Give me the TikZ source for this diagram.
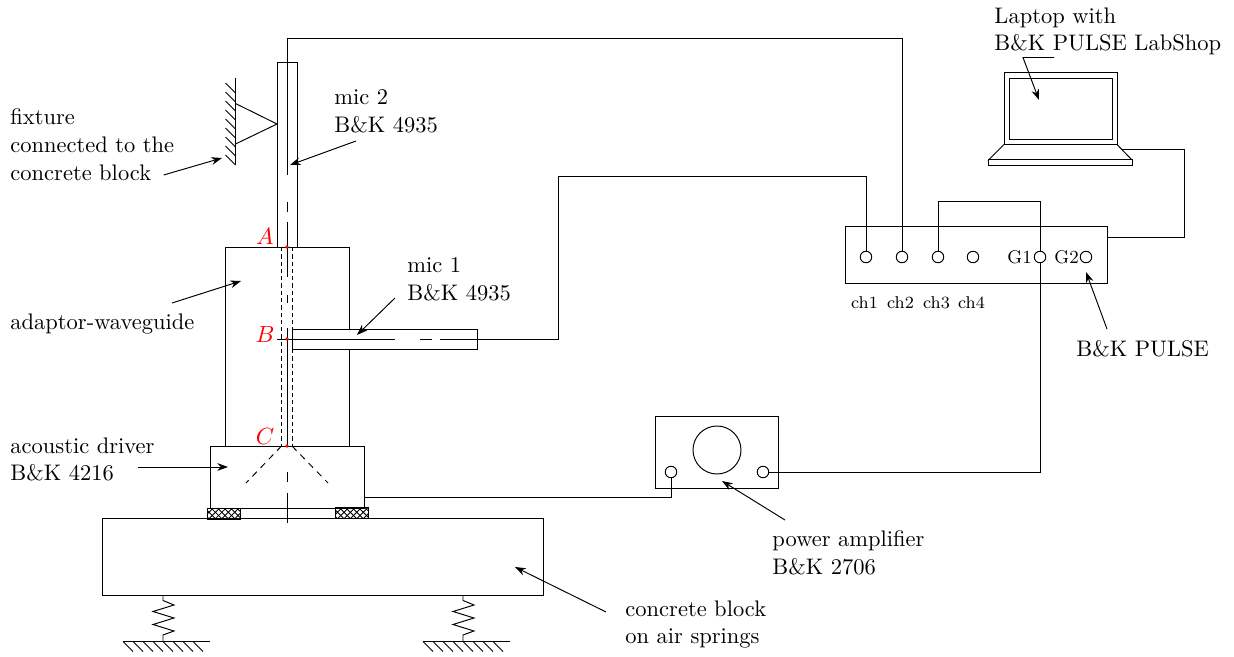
\documentclass[tikz,border=0pt]{standalone}
\usetikzlibrary{arrows.meta, positioning, patterns}
\newdimen\ux
\ux=0.4668pt
\tikzset{
  caja/.style={rectangle, draw=black, fill=white, inner sep=0pt, outer sep=0pt},
  puerto/.style={circle, draw=black, inner sep=0pt, outer sep=0pt, minimum size=11.5\ux},
  almohadilla/.style={rectangle, draw=black, pattern=crosshatch, inner sep=0pt, outer sep=0pt,
                      minimum width=33\ux, minimum height=11\ux},
  rotulo/.style={anchor=north west, inner sep=0pt, align=left, font=\fontsize{10.5}{13}\selectfont},
  punto/.style={red, font=\fontsize{10.5}{12}\selectfont, inner sep=0pt},
  canal/.style={rotulo, font=\footnotesize, anchor=base},
  flecha/.style={-{Stealth[length=5pt,width=3.6pt]}},
  cable/.style={line width=0.45pt},
  guiones/.style={dash pattern=on 2pt off 1.4pt},
  conos/.style={dash pattern=on 3pt off 2.55pt}
}
\begin{document}
\begin{tikzpicture}[x=0.4668pt, y=-0.4668pt, line width=0.45pt]
  \useasboundingbox (0,0) rectangle (1234,657);
  % test rig
  \node (bloque) [caja, minimum width=441\ux, minimum height=77\ux] at (322.5,556.5) {};
  \draw (240,518) -- (240,508) -- (335,508) -- (335,518);
  \node (guia) [caja, minimum width=124\ux, minimum height=199\ux] at (287,346.5) {};
  \node (driver) [caja, minimum width=154\ux, minimum height=62\ux] at (287,477) {};
  \node (pad1) [almohadilla] at (223.5,513.5) {};
  \node (pad2) [almohadilla] at (351.5,513) {};
  \node (mic2) [caja, minimum width=20\ux, minimum height=185\ux] at (287,154.5) {};
  \node (mic1) [caja, minimum width=185\ux, minimum height=20\ux] at (384.5,339) {};
  % duct
  \draw [guiones] (281.5,247) -- (281.5,446);
  \draw [guiones] (292,247) -- (292,446);
  \draw [conos] (281.5,446) -- (246,483);
  \draw [conos] (292,446) -- (328,483);
  % axes
  \coordinate (arriba) at (287,38);
  \coordinate (salida1) at (497,339);
  \draw (arriba) -- (287,175) (287,202) -- (287,212) (287,222) -- (287,277)
        (287,295) -- (287,303) (287,328) -- (287,446) (287,472) -- (287,482) (287,493) -- (287,523);
  \draw (277,339) -- (395,339) (420,339) -- (432,339) (440,339) -- (salida1);
  % measuring points
  \foreach \py/\letra/\ly in {247/A/236, 339/B/334, 446/C/436} {
    \fill [red] (287,\py) circle (1.8);
    \node (p\letra) [punto] at (265,\ly) {$\letra$};
  }
  % fixture
  \draw (235.5,78) -- (235.5,165);
  \foreach \hy in {93,102,...,165} {
    \draw (235.5,\hy) -- ++(-10,-10);
  }
  \draw (235.5,103.5) -- (mic2.west |- 0,124) -- (235.5,144);
  % springs and floor
  \foreach \sx in {163,463} {
    \draw (\sx,595) -- (\sx,600.5) -- ++(11,4.5) -- ++(-21,6.5) -- ++(21,6.5) -- ++(-21,6.5) -- ++(21,6.5) -- ++(-11,4) -- (\sx,641.5);
    \draw (\sx-40,641.5) -- (\sx+47,641.5);
    \foreach \gx in {0,10,...,70} {
      \draw (\sx-40+\gx,641.5) -- ++(10,10);
    }
  }
  % amplifier
  \node (amp) [caja, minimum width=123\ux, minimum height=72\ux] at (716.5,452) {};
  \node (cono) [circle, draw=black, inner sep=0pt, minimum size=48\ux] at (717,450) {};
  \node (ampin) [puerto] at (671,472) {};
  \node (ampout) [puerto] at (763,472) {};
  % analyzer
  \node (pulse) [caja, minimum width=262\ux, minimum height=57\ux] at (976,254.5) {};
  \foreach \cx/\cn in {866/1, 902/2, 938/3, 973/4} {
    \node (ch\cn) [puerto] at (\cx,257) {};
    \node (lch\cn) [canal] at (\cx-1.5,308) {ch\cn};
  }
  \node (g1) [puerto] at (1040,257) {};
  \node (g2) [puerto] at (1086,257) {};
  \node (lg1) [left=2\ux of g1, inner sep=0pt, font=\fontsize{8.6}{10}\selectfont] {G1};
  \node (lg2) [left=1\ux of g2, inner sep=0pt, font=\fontsize{8.6}{10}\selectfont] {G2};
  % laptop
  \node (pantalla) [caja, minimum width=113\ux, minimum height=72\ux] at (1060.5,108.5) {};
  \node (display) [caja, minimum width=103\ux, minimum height=61.5\ux] at (1060.5,108.75) {};
  \draw (pantalla.south west) -- (988.5,160) -- (1132,160) -- (pantalla.south east);
  \node (teclado) [caja, minimum width=143.5\ux, minimum height=5.5\ux] at (1060.25,162.25) {};
  % cables
  \coordinate (salidapc) at (1122,149.5);
  \draw [cable] (arriba) -- (902,38) -- (ch2.north);
  \draw [cable] (salida1) -- (558,339) -- (558,176) -- (866,176) -- (ch1.north);
  \draw [cable] (ch3.north) -- (938,201) -- (1040,201) -- (g1.north);
  \draw [cable] (ampout.east) -- (1040,472) -- (g1.south);
  \draw [cable] (driver.east |- 0,497) -- (671,497) -- (ampin.south);
  \draw [cable] (salidapc) -- (1184,149.5) -- (1184,237) -- (pulse.east |- 0,237);
  % labels
  \node (lfix) [rotulo] at (10,108) {fixture\\connected to the\\concrete block};
  \node (lmic2) [rotulo] at (334,89.5) {mic 2\\B\&K 4935};
  \node (lmic1) [rotulo] at (407,257) {mic 1\\B\&K 4935};
  \node (lguia) [rotulo] at (10,313) {adaptor-waveguide};
  \node (ldriver) [rotulo] at (10,437) {acoustic driver\\B\&K 4216};
  \node (lbloque) [rotulo] at (625,600) {concrete block\\on air springs};
  \node (lamp) [rotulo] at (772,530) {power amplifier\\B\&K 2706};
  \node (lpulse) [rotulo] at (1076,340) {B\&K PULSE};
  \node (lpc) [rotulo] at (994,7) {Laptop with\\B\&K PULSE LabShop};
  % pointers
  \coordinate (tfix) at (222,158);
  \draw [flecha] (lfix.east |- 0,175) ++(-11,0) -- (tfix);
  \draw [flecha] (356,141) -- (290,165);
  \draw [flecha] (395,298) -- (357,335);
  \draw [flecha] (172,303) -- (241,281);
  \draw [flecha] (138,467) -- (228,467);
  \draw [flecha] (606,612) -- (515,567);
  \draw [flecha] (785,520) -- (722,481);
  \draw [flecha] (1107,329) -- (1086,272);
  \draw [flecha] (1054,57.5) -- (1023,57.5) -- (1039,100);
\end{tikzpicture}
\end{document}
